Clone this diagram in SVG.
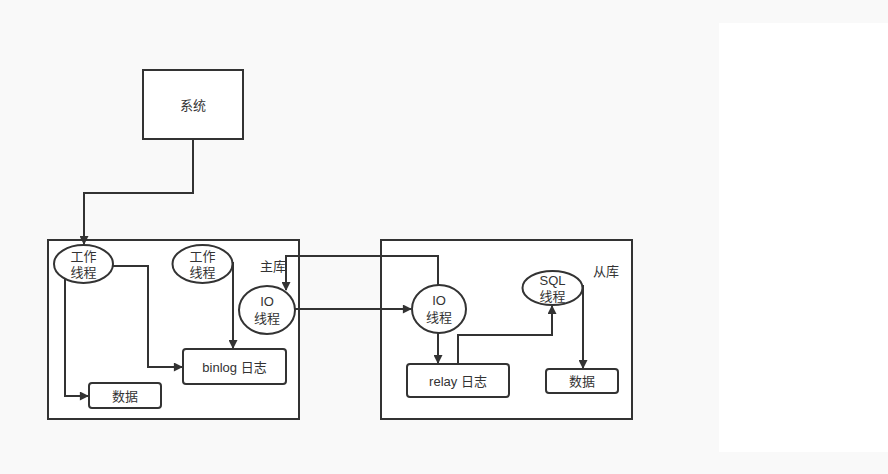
<svg xmlns="http://www.w3.org/2000/svg" width="888" height="474" viewBox="0 0 888 474">
<defs>
<marker id="arr" viewBox="0 0 10 10" refX="9" refY="5" markerWidth="10" markerHeight="9" markerUnits="userSpaceOnUse" orient="auto">
<path d="M0,0 L10,5 L0,10 Z" fill="#333"/>
</marker>
<style>
.box{fill:#fff;stroke:#333;stroke-width:2}
.node{fill:#fff;stroke:#333;stroke-width:2}
.t{font-family:"Liberation Sans","Noto Sans CJK SC",sans-serif;font-size:13px;fill:#333;text-anchor:middle}
.lbl{font-family:"Liberation Sans","Noto Sans CJK SC",sans-serif;font-size:13px;fill:#333}
.c{fill:none;stroke:#333;stroke-width:2;marker-end:url(#arr)}
</style>
</defs>
<rect width="888" height="474" fill="#f9f9f9"/>
<rect x="719" y="23" width="169" height="429" fill="#fff"/>
<g id="master"><rect class="box" x="48" y="240" width="251" height="179"/><text class="lbl" x="260" y="271">主库</text></g>
<g id="slave"><rect class="box" x="381" y="240" width="251" height="179"/><text class="lbl" x="593" y="276">从库</text></g>
<g id="system"><rect class="box" x="143" y="70" width="100" height="69"/><text class="t" x="193" y="110">系统</text></g>
<g id="worker1"><ellipse class="node" cx="83.5" cy="264" rx="29.5" ry="19"/><text class="t" x="83.5" y="261">工作</text><text class="t" x="83.5" y="277">线程</text></g>
<g id="worker2"><ellipse class="node" cx="202.5" cy="264" rx="30" ry="19"/><text class="t" x="202.5" y="261">工作</text><text class="t" x="202.5" y="277">线程</text></g>
<g id="mio"><ellipse class="node" cx="267" cy="310" rx="28" ry="24"/><text class="t" x="267" y="306">IO</text><text class="t" x="267" y="323">线程</text></g>
<g id="binlog"><rect class="node" x="183" y="349" width="103" height="35" rx="3"/><text class="t" x="234.5" y="372">binlog 日志</text></g>
<g id="mdata"><rect class="node" x="89" y="383" width="72" height="25" rx="3"/><text class="t" x="125" y="401">数据</text></g>
<g id="sio"><ellipse class="node" cx="439" cy="309" rx="27" ry="24"/><text class="t" x="439" y="305">IO</text><text class="t" x="439" y="322">线程</text></g>
<g id="sql"><ellipse class="node" cx="552.5" cy="288" rx="30" ry="17"/><text class="t" x="552.5" y="285">SQL</text><text class="t" x="552.5" y="301">线程</text></g>
<g id="relay"><rect class="node" x="407" y="364" width="102" height="33" rx="3"/><text class="t" x="458" y="386">relay 日志</text></g>
<g id="sdata"><rect class="node" x="546" y="369" width="72" height="24" rx="3"/><text class="t" x="582" y="386">数据</text></g>
<g id="connectors">
<path class="c" d="M193,139 V193 H84 V244"/>
<path class="c" d="M113,266 H148 V367 H182"/>
<path class="c" d="M65,278 V396 H88"/>
<path class="c" d="M233,262 V348"/>
<path class="c" d="M438,285 V256 H286 V290"/>
<path class="c" d="M295,309 H411"/>
<path class="c" d="M438,333 V363"/>
<path class="c" d="M458,363 V335 H552 V306"/>
<path class="c" d="M583,285 V368"/>
</g>
</svg>
